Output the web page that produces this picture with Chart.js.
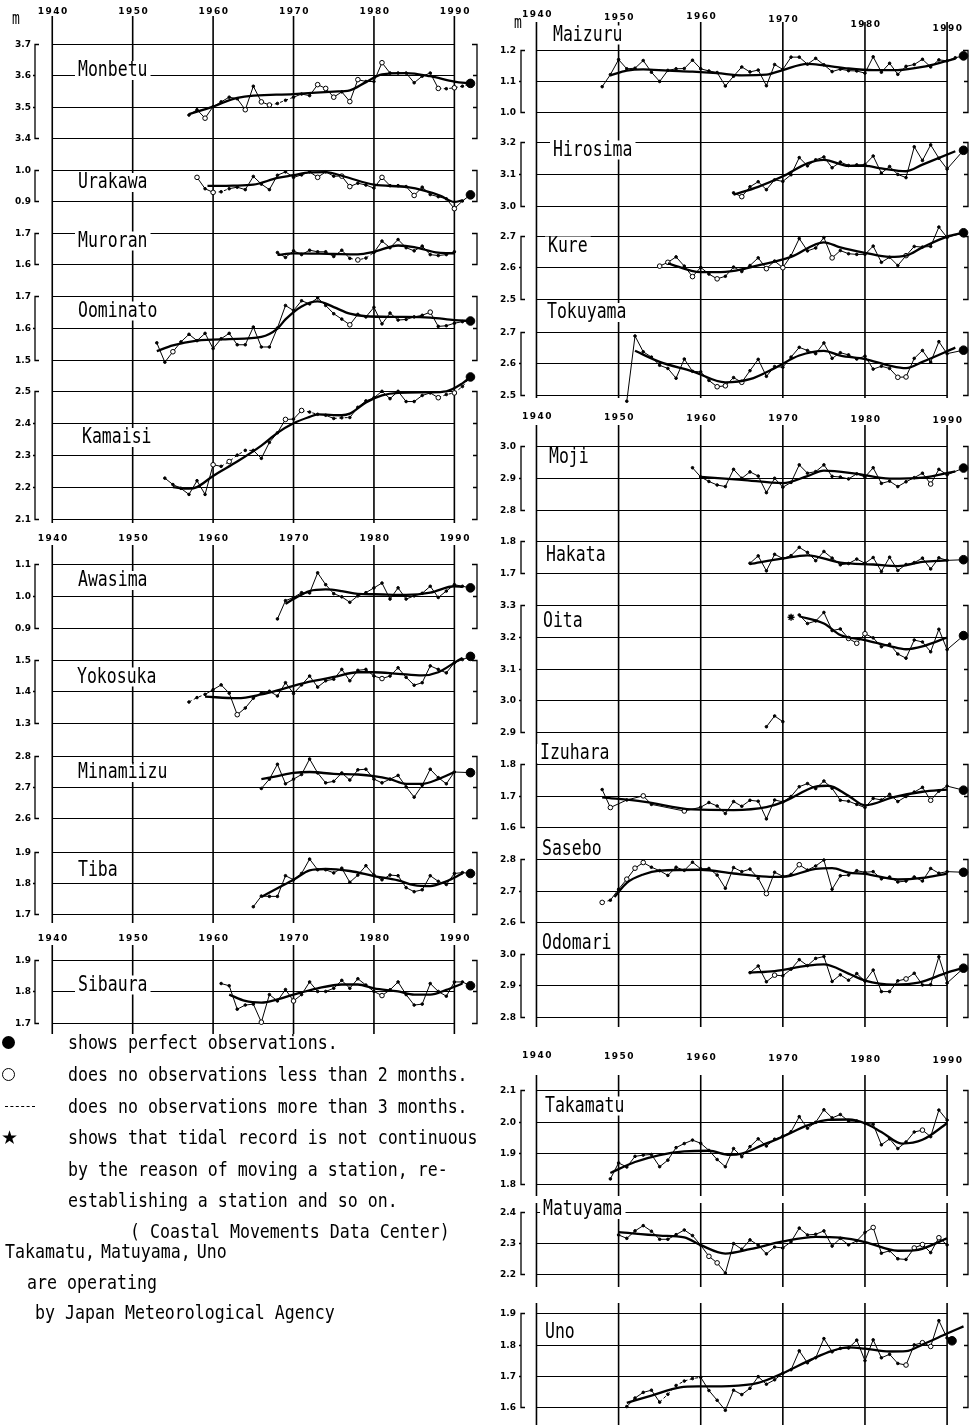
<!DOCTYPE html>
<html><head><meta charset="utf-8">
<script src="https://cdn.jsdelivr.net/npm/chart.js@4.4.1/dist/chart.umd.min.js"></script>
<style>
html,body{margin:0;padding:0;background:#fff}
body{width:974px;height:1425px;position:relative;overflow:hidden}
canvas{position:absolute;top:0}
.t{position:absolute;font-family:'DejaVu Sans Mono',monospace;font-size:16.6px;line-height:20px;height:20px;white-space:pre;color:#000;transform:scaleY(1.2);transform-origin:0 50%}
</style></head><body>
<canvas id="leftCol" width="490" height="1040" style="left:0"></canvas>
<canvas id="rightCol" width="484" height="1425" style="left:490px"></canvas>
<div style="position:absolute;left:2px;top:1036px;width:13px;height:13px;border-radius:50%;background:#000"></div>
<div style="position:absolute;left:2px;top:1068px;width:11px;height:11px;border-radius:50%;border:1.3px solid #000"></div>
<div style="position:absolute;left:5px;top:1106px;width:30px;border-top:1px dashed #000"></div>
<div class="t" style="left:1px;top:1127px;font-family:'DejaVu Sans';font-size:19px;transform:none">★</div>
<div class="t" style="left:68px;top:1033px">shows perfect observations.</div>
<div class="t" style="left:68px;top:1065px">does no observations less than 2 months.</div>
<div class="t" style="left:68px;top:1097px">does no observations more than 3 months.</div>
<div class="t" style="left:68px;top:1128px">shows that tidal record is not continuous</div>
<div class="t" style="left:68px;top:1160px">by the reason of moving a station, re-</div>
<div class="t" style="left:68px;top:1191px">establishing a station and so on.</div>
<div class="t" style="left:130px;top:1222px">( Coastal Movements Data Center)</div>
<div class="t" style="left:5px;top:1242px;word-spacing:-4px">Takamatu, Matuyama, Uno</div>
<div class="t" style="left:27px;top:1273px">are operating</div>
<div class="t" style="left:35px;top:1303px">by Japan Meteorological Agency</div>
<script>
// ---------------- DATA (annual mean sea level, m) ----------------
const yearTicks = [1940, 1950, 1960, 1970, 1980, 1990];

const monbetuFirstYear = 1957;
const monbetuLevels = [3.473,3.49,3.463,3.50,3.515,3.53,3.525,3.49,3.565,3.515,3.505,3.51,3.52,3.53,3.54,3.535,3.57,3.558,3.53,3.547,3.516,3.586,3.58,3.58,3.64,3.607,3.607,3.607,3.576,3.597,3.607,3.558,3.557,3.56,3.565];
const monbetuTrendYears = [1957,1960,1963,1970,1975,1977,1979,1981,1984,1987,1990,1992];
const monbetuTrendLevels = [3.476,3.50,3.528,3.54,3.548,3.552,3.578,3.603,3.607,3.597,3.58,3.574];
const monbetuTicks = [3.7,3.6,3.5,3.4];
const monbetuLatest = [1992,3.574];
const monbetuOpen = [1959,1964,1966,1967,1973,1974,1975,1977,1978,1981,1988,1990];
const monbetuDashed = [1967,1968,1969,1988,1989,1990,1991];

const urakawaFirstYear = 1958;
const urakawaLevels = [0.977,0.94,0.928,0.93,0.94,0.945,0.937,0.98,0.955,0.937,0.984,0.995,0.977,0.985,0.995,0.977,0.995,0.981,0.981,0.947,0.958,0.952,0.942,0.977,0.95,0.95,0.947,0.918,0.945,0.921,0.914,0.907,0.875,0.90];
const urakawaTrendYears = [1959.3,1962.5,1965,1968,1970,1972,1974,1976.4,1980,1984.2,1988.2,1990,1991];
const urakawaTrendLevels = [0.949,0.95,0.953,0.975,0.984,0.993,0.994,0.979,0.953,0.945,0.918,0.897,0.902];
const urakawaTicks = [1.0,0.9];
const urakawaLatest = [1992,0.92];
const urakawaOpen = [1958,1960,1973,1976,1977,1981,1985,1990];
const urakawaDashed = [1960,1961];

const muroranFirstYear = 1968;
const muroranLevels = [1.6375,1.622,1.643,1.631,1.645,1.64,1.64,1.625,1.645,1.619,1.614,1.62,1.638,1.674,1.653,1.679,1.653,1.643,1.658,1.631,1.628,1.631,1.64];
const muroranTrendYears = [1968,1970,1975,1978,1980,1983,1985,1988,1990];
const muroranTrendLevels = [1.63,1.635,1.633,1.632,1.64,1.66,1.655,1.637,1.635];
const muroranTicks = [1.7,1.6];
const muroranLatest = null;
const muroranOpen = [1978];
const muroranDashed = [1977,1978,1979];

const oominatoFirstYear = 1953;
const oominatoLevels = [1.553,1.492,1.525,1.556,1.58,1.56,1.583,1.535,1.566,1.583,1.547,1.547,1.603,1.54,1.54,1.6,1.671,1.655,1.686,1.676,1.695,1.671,1.645,1.628,1.61,1.643,1.635,1.665,1.613,1.647,1.625,1.627,1.635,1.64,1.65,1.605,1.607,1.615,1.62];
const oominatoTrendYears = [1953,1955,1958,1962,1966,1968,1969,1971,1973,1975,1977,1979,1983,1987,1990,1992];
const oominatoTrendLevels = [1.527,1.545,1.56,1.565,1.572,1.598,1.627,1.668,1.684,1.666,1.645,1.637,1.635,1.633,1.625,1.622];
const oominatoTicks = [1.7,1.6,1.5];
const oominatoLatest = [1992,1.622];
const oominatoOpen = [1955,1977,1987];
const oominatoDashed = [];

const kamaisiFirstYear = 1954;
const kamaisiLevels = [2.228,2.208,2.196,2.177,2.22,2.177,2.27,2.265,2.28,2.30,2.315,2.315,2.29,2.34,2.37,2.412,2.413,2.44,2.435,2.428,2.425,2.415,2.417,2.418,2.45,2.47,2.48,2.50,2.477,2.50,2.468,2.468,2.487,2.495,2.48,2.49,2.495,2.515];
const kamaisiTrendYears = [1955,1957,1958,1960,1963,1966,1968,1970,1972,1973,1976,1977,1979,1981,1983,1987,1989,1991,1992];
const kamaisiTrendLevels = [2.20,2.195,2.2,2.235,2.28,2.33,2.37,2.40,2.42,2.428,2.425,2.43,2.465,2.487,2.495,2.497,2.5,2.525,2.545];
const kamaisiTicks = [2.5,2.4,2.3,2.2,2.1];
const kamaisiLatest = [1992,2.545];
const kamaisiOpen = [1960,1962,1969,1971,1988,1990];
const kamaisiDashed = [1961,1962,1963,1964,1971,1972,1975,1976,1988,1989,1990,1991];

const awasimaFirstYear = 1968;
const awasimaLevels = [0.928,0.985,0.995,1.01,1.009,1.072,1.035,1.007,0.997,0.98,1.0,1.01,1.025,1.04,0.99,1.025,0.99,1.0,1.008,1.03,0.995,1.015,1.035,1.03];
const awasimaTrendYears = [1969,1970,1972,1974,1976,1978,1980,1984,1987,1990,1991];
const awasimaTrendLevels = [0.975,0.99,1.015,1.02,1.015,1.006,1.005,1.003,1.01,1.03,1.028];
const awasimaTicks = [1.1,1.0,0.9];
const awasimaLatest = [1992,1.025];
const awasimaOpen = [];
const awasimaDashed = [];

const yokosukaFirstYear = 1957;
const yokosukaLevels = [1.366,1.38,1.39,1.405,1.42,1.394,1.326,1.347,1.378,1.394,1.40,1.385,1.427,1.393,1.42,1.448,1.413,1.433,1.438,1.469,1.433,1.466,1.469,1.448,1.44,1.448,1.474,1.444,1.419,1.427,1.48,1.469,1.458,1.49,1.50];
const yokosukaTrendYears = [1959,1963,1966,1969,1972,1975,1978,1980,1983,1986,1988,1990,1991];
const yokosukaTrendLevels = [1.383,1.378,1.39,1.41,1.43,1.445,1.46,1.46,1.455,1.45,1.46,1.49,1.505];
const yokosukaTicks = [1.5,1.4,1.3];
const yokosukaLatest = [1992,1.51];
const yokosukaOpen = [1963,1981];
const yokosukaDashed = [1957,1958];

const minamiizuFirstYear = 1966;
const minamiizuLevels = [2.695,2.725,2.773,2.71,2.725,2.74,2.79,2.745,2.713,2.718,2.745,2.722,2.755,2.757,2.725,2.713,2.725,2.737,2.70,2.667,2.705,2.757,2.73,2.71,2.748];
const minamiizuTrendYears = [1966,1968,1970,1972,1975,1978,1980,1982,1984,1986,1988,1990];
const minamiizuTrendLevels = [2.725,2.735,2.745,2.748,2.742,2.74,2.735,2.725,2.71,2.71,2.725,2.748];
const minamiizuTicks = [2.8,2.7,2.6];
const minamiizuLatest = [1992,2.746];
const minamiizuOpen = [];
const minamiizuDashed = [];

const tibaFirstYear = 1965;
const tibaLevels = [1.724,1.758,1.757,1.757,1.823,1.81,1.83,1.876,1.842,1.842,1.832,1.847,1.802,1.825,1.855,1.825,1.81,1.825,1.823,1.785,1.772,1.778,1.823,1.805,1.795,1.83,1.833];
const tibaTrendYears = [1966,1968,1970,1972,1974,1977,1980,1983,1985,1987,1989,1991];
const tibaTrendLevels = [1.755,1.783,1.81,1.84,1.845,1.838,1.822,1.808,1.793,1.79,1.805,1.83];
const tibaTicks = [1.9,1.8,1.7];
const tibaLatest = [1992,1.83];
const tibaOpen = [];
const tibaDashed = [];

const sibauraFirstYear = 1961;
const sibauraLevels = [1.825,1.818,1.744,1.757,1.76,1.703,1.79,1.77,1.806,1.77,1.79,1.83,1.80,1.80,1.81,1.835,1.81,1.84,1.82,1.80,1.787,1.805,1.83,1.79,1.757,1.76,1.825,1.80,1.785,1.83,1.83];
const sibauraTrendYears = [1962,1964,1966,1968,1970,1973,1976,1978,1980,1983,1985,1987,1989,1991];
const sibauraTrendLevels = [1.79,1.77,1.765,1.775,1.79,1.81,1.822,1.822,1.81,1.8,1.79,1.79,1.805,1.825];
const sibauraTicks = [1.9,1.8,1.7];
const sibauraLatest = [1992,1.818];
const sibauraOpen = [1966,1970,1981];
const sibauraDashed = [];

const maizuruFirstYear = 1948;
const maizuruLevels = [1.081,1.12,1.169,1.139,1.141,1.166,1.128,1.098,1.134,1.139,1.14,1.167,1.139,1.132,1.127,1.083,1.115,1.145,1.129,1.135,1.084,1.153,1.137,1.177,1.177,1.154,1.173,1.152,1.13,1.138,1.133,1.132,1.125,1.178,1.128,1.157,1.121,1.147,1.153,1.17,1.145,1.168,1.165,1.175];
const maizuruTrendYears = [1949,1951,1953,1956,1959,1962,1965,1968,1970,1973,1975,1978,1981,1984,1987,1990,1991];
const maizuruTrendLevels = [1.118,1.133,1.137,1.133,1.13,1.125,1.118,1.12,1.135,1.155,1.15,1.14,1.135,1.135,1.145,1.165,1.172];
const maizuruTicks = [1.2,1.1,1.0];
const maizuruLatest = [1992,1.181];
const maizuruOpen = [];
const maizuruDashed = [];

const hirosimaFirstYear = 1964;
const hirosimaLevels = [3.041,3.029,3.06,3.076,3.051,3.082,3.077,3.098,3.152,3.126,3.145,3.154,3.12,3.138,3.127,3.129,3.13,3.157,3.103,3.124,3.099,3.089,3.186,3.143,3.192,3.15,3.116];
const hirosimaTrendYears = [1964,1967,1970,1973,1975,1978,1980,1982,1985,1987,1991];
const hirosimaTrendLevels = [3.035,3.06,3.093,3.134,3.145,3.126,3.126,3.118,3.109,3.13,3.172];
const hirosimaTicks = [3.2,3.1,3.0];
const hirosimaLatest = [1992,3.175];
const hirosimaOpen = [1965];
const hirosimaDashed = [];

const kureFirstYear = 1955;
const kureLevels = [2.604,2.616,2.633,2.604,2.571,2.60,2.579,2.564,2.572,2.601,2.587,2.606,2.63,2.596,2.62,2.599,2.637,2.691,2.652,2.661,2.694,2.63,2.653,2.643,2.641,2.641,2.667,2.616,2.632,2.606,2.637,2.666,2.664,2.666,2.727,2.694];
const kureTrendYears = [1956,1960,1963,1967,1971,1975,1977,1980,1983,1985,1987,1990,1992];
const kureTrendLevels = [2.613,2.585,2.586,2.606,2.633,2.679,2.663,2.646,2.633,2.637,2.663,2.697,2.709];
const kureTicks = [2.7,2.6,2.5];
const kureLatest = [1992,2.709];
const kureOpen = [1955,1956,1959,1962,1968,1970,1976,1985];
const kureDashed = [];

const tokuyamaFirstYear = 1951;
const tokuyamaLevels = [2.48,2.687,2.637,2.62,2.594,2.584,2.553,2.614,2.575,2.573,2.546,2.526,2.529,2.555,2.54,2.577,2.613,2.559,2.59,2.588,2.62,2.651,2.641,2.631,2.665,2.616,2.634,2.627,2.614,2.623,2.582,2.591,2.584,2.556,2.557,2.616,2.641,2.604,2.669,2.631];
const tokuyamaTrendYears = [1952,1955,1959,1963,1966,1969,1972,1975,1977,1980,1983,1985,1987,1991];
const tokuyamaTrendLevels = [2.64,2.605,2.575,2.54,2.55,2.585,2.625,2.64,2.625,2.614,2.593,2.585,2.605,2.65];
const tokuyamaTicks = [2.7,2.6,2.5];
const tokuyamaLatest = [1992,2.642];
const tokuyamaOpen = [1962,1963,1965,1984,1985];
const tokuyamaDashed = [];

const mojiFirstYear = 1959;
const mojiLevels = [2.931,2.902,2.888,2.877,2.872,2.926,2.898,2.918,2.905,2.853,2.898,2.87,2.885,2.94,2.914,2.919,2.94,2.904,2.902,2.896,2.912,2.902,2.931,2.882,2.889,2.872,2.887,2.9,2.914,2.88,2.926,2.909];
const mojiTrendYears = [1960,1965,1970,1973,1975,1979,1983,1987,1991];
const mojiTrendLevels = [2.902,2.893,2.883,2.905,2.922,2.912,2.897,2.9,2.92];
const mojiTicks = [3.0,2.9,2.8];
const mojiLatest = [1992,2.93];
const mojiOpen = [1988];
const mojiDashed = [];

const hakataFirstYear = 1966;
const hakataLevels = [1.731,1.754,1.707,1.759,1.746,1.755,1.781,1.765,1.739,1.768,1.747,1.726,1.73,1.744,1.731,1.749,1.705,1.75,1.708,1.727,1.733,1.747,1.713,1.748,1.74];
const hakataTrendYears = [1966,1970,1973,1977,1981,1984,1987,1990];
const hakataTrendLevels = [1.728,1.746,1.756,1.733,1.727,1.722,1.735,1.74];
const hakataTicks = [1.8,1.7];
const hakataLatest = [1992,1.742];
const hakataOpen = [];
const hakataDashed = [];

const oitaFirstYear = 1968;
const oitaLevels = [2.917,2.951,2.933,null,3.269,3.242,3.25,3.277,3.22,3.225,3.195,3.18,3.21,3.197,3.169,3.177,3.146,3.133,3.19,3.184,3.153,3.224,3.16];
const oitaTrendYears = [1972,1975,1977,1980,1983,1985,1987,1990];
const oitaTrendLevels = [3.265,3.242,3.206,3.19,3.171,3.161,3.17,3.198];
const oitaTicks = [3.3,3.2,3.1,3.0,2.9];
const oitaLatest = [1992,3.204];
const oitaOpen = [1978,1979,1980];
const oitaDashed = [];
const oitaRelocation = [1971,3.262];

const izuharaFirstYear = 1948;
const izuharaLevels = [1.72,1.663,null,1.687,null,1.70,1.673,null,null,null,1.652,null,1.664,1.679,1.668,1.644,1.682,1.667,1.686,1.683,1.627,1.687,1.681,1.698,1.729,1.739,1.723,1.747,1.724,1.686,1.683,1.673,1.663,1.692,1.687,1.705,1.682,1.698,1.712,1.727,1.686,1.715,1.731];
const izuharaTrendYears = [1948,1953,1959,1964,1968,1970,1974,1975.5,1978,1980,1983.5,1987,1990];
const izuharaTrendLevels = [1.695,1.682,1.657,1.655,1.664,1.68,1.729,1.732,1.70,1.67,1.696,1.713,1.72];
const izuharaTicks = [1.8,1.7,1.6];
const izuharaLatest = [1992,1.718];
const izuharaOpen = [1949,1953,1958,1988];
const izuharaDashed = [];

const saseboFirstYear = 1948;
const saseboLevels = [2.663,2.67,2.705,2.737,2.772,2.79,2.775,2.764,2.749,2.775,2.765,2.791,2.77,2.771,2.75,2.708,2.774,2.761,2.769,2.74,2.691,2.759,2.746,2.752,2.783,2.766,2.779,2.798,2.705,2.748,2.75,2.764,2.759,2.761,2.738,2.744,2.728,2.731,2.744,2.731,2.771,2.756,2.761];
const saseboTrendYears = [1949.5,1951,1953,1955,1960,1964,1968,1970,1974,1976,1978,1980,1984,1987,1990];
const saseboTrendLevels = [2.68,2.725,2.752,2.764,2.767,2.755,2.745,2.744,2.77,2.772,2.758,2.754,2.736,2.741,2.755];
const saseboTicks = [2.8,2.7,2.6];
const saseboLatest = [1992,2.759];
const saseboOpen = [1948,1951,1952,1953,1968,1972];
const saseboDashed = [1948];

const odomariFirstYear = 1966;
const odomariLevels = [2.94,2.961,2.911,2.932,2.93,2.951,2.981,2.962,2.985,2.991,2.912,2.933,2.916,2.937,2.913,2.948,2.88,2.88,2.914,2.92,2.938,2.901,2.902,2.99,2.907];
const odomariTrendYears = [1966,1969,1973,1975,1978,1980,1983.5,1986.5,1990,1992];
const odomariTrendLevels = [2.94,2.945,2.962,2.966,2.937,2.915,2.902,2.908,2.94,2.955];
const odomariTicks = [3.0,2.9,2.8];
const odomariLatest = [1992,2.954];
const odomariOpen = [1969,1985];
const odomariDashed = [];

const takamatuFirstYear = 1949;
const takamatuLevels = [1.817,1.868,1.855,1.889,1.893,1.895,1.856,1.877,1.917,1.93,1.941,1.931,1.908,1.879,1.856,1.914,1.888,1.92,1.945,1.922,1.944,1.954,1.968,2.016,1.979,1.998,2.038,2.012,2.023,2.002,2.002,1.995,1.992,1.926,1.945,1.914,1.935,1.967,1.973,1.952,2.037,2.005];
const takamatuTrendYears = [1949,1952,1955,1958,1961,1963.5,1965,1967.5,1970,1973,1975.5,1978,1980,1982,1984.5,1987,1990];
const takamatuTrendLevels = [1.836,1.871,1.893,1.905,1.907,1.894,1.898,1.925,1.952,1.988,2.006,2.007,1.995,1.967,1.93,1.942,1.995];
const takamatuTicks = [2.1,2.0,1.9,1.8];
const takamatuLatest = null;
const takamatuOpen = [1987];
const takamatuDashed = [];

const matuyamaFirstYear = 1950;
const matuyamaLevels = [2.326,2.315,2.339,2.356,2.338,2.312,2.312,2.327,2.342,2.324,2.293,2.257,2.236,2.203,2.298,2.28,2.31,2.293,2.265,2.287,2.284,2.304,2.348,2.326,2.328,2.339,2.29,2.315,2.294,2.307,2.334,2.35,2.267,2.275,2.249,2.247,2.284,2.295,2.269,2.317,2.294];
const matuyamaTrendYears = [1950,1955,1958,1960,1963,1966,1970,1974,1977,1980,1984,1986,1990];
const matuyamaTrendLevels = [2.335,2.324,2.318,2.293,2.266,2.28,2.305,2.32,2.317,2.303,2.275,2.276,2.315];
const matuyamaTicks = [2.4,2.3,2.2];
const matuyamaLatest = null;
const matuyamaOpen = [1961,1962,1981,1986,1987,1989];
const matuyamaDashed = [];

const unoFirstYear = 1951;
const unoLevels = [1.603,1.63,1.648,1.655,1.617,1.642,1.67,1.684,1.692,1.696,1.654,1.623,1.591,1.655,1.641,1.661,1.698,1.674,1.688,1.709,1.72,1.78,1.742,1.758,1.819,1.777,1.788,1.789,1.814,1.749,1.815,1.758,1.769,1.74,1.735,1.799,1.806,1.794,1.876,1.821];
const unoTrendYears = [1951,1954,1957.5,1960,1963.5,1967,1970,1973.5,1976,1978,1980,1983,1985,1987,1990,1992];
const unoTrendLevels = [1.615,1.638,1.664,1.667,1.668,1.678,1.709,1.753,1.78,1.791,1.787,1.778,1.779,1.8,1.835,1.858];
const unoTicks = [1.9,1.8,1.7,1.6];
const unoLatest = [1990.6,1.812];
const unoOpen = [1985,1987,1988];
const unoDashed = [1955,1956,1957,1958,1959];

// --------------- table built from the arrays ---------------
function station(first, levels, trendYears, trendLevels, ticks, latest, open, dashed) {
  return {first, levels, trendYears, trendLevels, ticks, latest, open, dashed};
}
const STATIONS = {
  Monbetu: station(monbetuFirstYear, monbetuLevels, monbetuTrendYears, monbetuTrendLevels, monbetuTicks, monbetuLatest, monbetuOpen, monbetuDashed),
  Urakawa: station(urakawaFirstYear, urakawaLevels, urakawaTrendYears, urakawaTrendLevels, urakawaTicks, urakawaLatest, urakawaOpen, urakawaDashed),
  Muroran: station(muroranFirstYear, muroranLevels, muroranTrendYears, muroranTrendLevels, muroranTicks, muroranLatest, muroranOpen, muroranDashed),
  Oominato: station(oominatoFirstYear, oominatoLevels, oominatoTrendYears, oominatoTrendLevels, oominatoTicks, oominatoLatest, oominatoOpen, oominatoDashed),
  Kamaisi: station(kamaisiFirstYear, kamaisiLevels, kamaisiTrendYears, kamaisiTrendLevels, kamaisiTicks, kamaisiLatest, kamaisiOpen, kamaisiDashed),
  Awasima: station(awasimaFirstYear, awasimaLevels, awasimaTrendYears, awasimaTrendLevels, awasimaTicks, awasimaLatest, awasimaOpen, awasimaDashed),
  Yokosuka: station(yokosukaFirstYear, yokosukaLevels, yokosukaTrendYears, yokosukaTrendLevels, yokosukaTicks, yokosukaLatest, yokosukaOpen, yokosukaDashed),
  Minamiizu: station(minamiizuFirstYear, minamiizuLevels, minamiizuTrendYears, minamiizuTrendLevels, minamiizuTicks, minamiizuLatest, minamiizuOpen, minamiizuDashed),
  Tiba: station(tibaFirstYear, tibaLevels, tibaTrendYears, tibaTrendLevels, tibaTicks, tibaLatest, tibaOpen, tibaDashed),
  Sibaura: station(sibauraFirstYear, sibauraLevels, sibauraTrendYears, sibauraTrendLevels, sibauraTicks, sibauraLatest, sibauraOpen, sibauraDashed),
  Maizuru: station(maizuruFirstYear, maizuruLevels, maizuruTrendYears, maizuruTrendLevels, maizuruTicks, maizuruLatest, maizuruOpen, maizuruDashed),
  Hirosima: station(hirosimaFirstYear, hirosimaLevels, hirosimaTrendYears, hirosimaTrendLevels, hirosimaTicks, hirosimaLatest, hirosimaOpen, hirosimaDashed),
  Kure: station(kureFirstYear, kureLevels, kureTrendYears, kureTrendLevels, kureTicks, kureLatest, kureOpen, kureDashed),
  Tokuyama: station(tokuyamaFirstYear, tokuyamaLevels, tokuyamaTrendYears, tokuyamaTrendLevels, tokuyamaTicks, tokuyamaLatest, tokuyamaOpen, tokuyamaDashed),
  Moji: station(mojiFirstYear, mojiLevels, mojiTrendYears, mojiTrendLevels, mojiTicks, mojiLatest, mojiOpen, mojiDashed),
  Hakata: station(hakataFirstYear, hakataLevels, hakataTrendYears, hakataTrendLevels, hakataTicks, hakataLatest, hakataOpen, hakataDashed),
  Oita: station(oitaFirstYear, oitaLevels, oitaTrendYears, oitaTrendLevels, oitaTicks, oitaLatest, oitaOpen, oitaDashed),
  Izuhara: station(izuharaFirstYear, izuharaLevels, izuharaTrendYears, izuharaTrendLevels, izuharaTicks, izuharaLatest, izuharaOpen, izuharaDashed),
  Sasebo: station(saseboFirstYear, saseboLevels, saseboTrendYears, saseboTrendLevels, saseboTicks, saseboLatest, saseboOpen, saseboDashed),
  Odomari: station(odomariFirstYear, odomariLevels, odomariTrendYears, odomariTrendLevels, odomariTicks, odomariLatest, odomariOpen, odomariDashed),
  Takamatu: station(takamatuFirstYear, takamatuLevels, takamatuTrendYears, takamatuTrendLevels, takamatuTicks, takamatuLatest, takamatuOpen, takamatuDashed),
  Matuyama: station(matuyamaFirstYear, matuyamaLevels, matuyamaTrendYears, matuyamaTrendLevels, matuyamaTicks, matuyamaLatest, matuyamaOpen, matuyamaDashed),
  Uno: station(unoFirstYear, unoLevels, unoTrendYears, unoTrendLevels, unoTicks, unoLatest, unoOpen, unoDashed)
};
const RELOCATIONS = { Oita: oitaRelocation };

// --------------- layout (pixel positions, separate from data) ---------------
const LEFT_COLUMN = {
  canvas: 'leftCol', W: 490, H: 1040, x1940: 48, x1990: 459,
  labelRight: 31, bracketL: 35, bracketR: 477, unit: [16, 20],
  groups: [
    {labelY: [11.5,11.5,11.5,11.5,11.5,11.5], spans: [[16, 523]]},
    {labelY: [538.5,538.5,538.5,538.5,538.5,538.5], spans: [[545, 923]]},
    {labelY: [938.5,938.5,938.5,938.5,938.5,938.5], spans: [[945, 1034]]}
  ],
  panels: [
    {key:'Monbetu',  top: 39,    bot: 134,   nx: 78, ny: 70.5},
    {key:'Urakawa',  top: 166.7, bot: 197.7, nx: 78, ny: 182.5},
    {key:'Muroran',  top: 230,   bot: 261.7, nx: 78, ny: 241},
    {key:'Oominato', top: 294,   bot: 358,   nx: 78, ny: 311},
    {key:'Kamaisi',  top: 390,   bot: 519,   nx: 82, ny: 437.5},
    {key:'Awasima',  top: 564.3, bot: 629,   nx: 78, ny: 580.5},
    {key:'Yokosuka', top: 661,   bot: 725,   nx: 77, ny: 677},
    {key:'Minamiizu',top: 758.3, bot: 821,   nx: 78, ny: 772.5},
    {key:'Tiba',     top: 855,   bot: 918.3, nx: 78, ny: 870.5},
    {key:'Sibaura',  top: 964.3, bot: 1028.3,nx: 78, ny: 985}
  ]
};
const RIGHT_COLUMN = {
  canvas: 'rightCol', W: 484, H: 1425, x1940: 42, x1990: 462,
  labelRight: 26, bracketL: 31, bracketR: 478, unit: [28, 24],
  groups: [
    {labelY: [15,18,17,20,25,29], spans: [[22, 398]]},
    {labelY: [417,418,419,419,420,421], spans: [[425, 1027]]},
    {labelY: [1056,1057,1058,1059,1060,1061], spans: [[1075, 1196], [1203, 1287], [1303, 1425]]}
  ],
  panels: [
    {key:'Maizuru',  top: 45,     bot: 107,    nx: 63, ny: 35},
    {key:'Hirosima', top: 138,    bot: 202,    nx: 63, ny: 150},
    {key:'Kure',     top: 232,    bot: 296,    nx: 58, ny: 246},
    {key:'Tokuyama', top: 329,    bot: 392.5,  nx: 57, ny: 312.5},
    {key:'Moji',     top: 443.7,  bot: 508,    nx: 59, ny: 457},
    {key:'Hakata',   top: 540,    bot: 572,    nx: 56, ny: 555},
    {key:'Oita',     top: 604.3,  bot: 732.3,  nx: 53, ny: 621},
    {key:'Izuhara',  top: 764.7,  bot: 828.3,  nx: 50, ny: 753.5},
    {key:'Sasebo',   top: 860.5,  bot: 923.8,  nx: 52, ny: 849.5},
    {key:'Odomari',  top: 955.5,  bot: 1019.2, nx: 52, ny: 943.5},
    {key:'Takamatu', top: 1093.3, bot: 1187.8, nx: 55, ny: 1106},
    {key:'Matuyama', top: 1215.8, bot: 1278.3, nx: 53, ny: 1209.5},
    {key:'Uno',      top: 1317.7, bot: 1412.8, nx: 55, ny: 1332}
  ]
};

// --------------- drawing helpers ---------------
function makeFramePlugin(col) {
  return {
    id: 'frame_' + col.canvas,
    beforeDatasetsDraw(chart) {
      const ctx = chart.ctx, xs = chart.scales.x;
      ctx.save();
      ctx.strokeStyle = '#000';
      ctx.fillStyle = '#000';
      const xa = xs.getPixelForValue(1940), xb = xs.getPixelForValue(1990);
      col.groups.forEach(g => {
        yearTicks.forEach((yr, i) => {
          const x = xs.getPixelForValue(yr);
          ctx.lineWidth = 1.6;
          g.spans.forEach(([a, b]) => {
            ctx.beginPath(); ctx.moveTo(x, a); ctx.lineTo(x, b); ctx.stroke();
          });
          ctx.font = "bold 9px 'DejaVu Sans'";
          ctx.letterSpacing = '1.5px';
          ctx.textAlign = 'center'; ctx.textBaseline = 'middle';
          ctx.fillText(String(yr), x + 1, g.labelY[i]);
        });
      });
      ctx.letterSpacing = '0px';
      ctx.save();
      ctx.font = "13px 'DejaVu Sans Mono'";
      ctx.textAlign = 'center'; ctx.textBaseline = 'middle';
      ctx.translate(col.unit[0], col.unit[1]); ctx.scale(1, 1.3);
      ctx.fillText('m', 0, 0);
      ctx.restore();
      col.panels.forEach(p => {
        const st = STATIONS[p.key], ys = chart.scales['y' + p.key];
        const tks = st.ticks;
        ctx.lineWidth = 1;
        ctx.font = "bold 9px 'DejaVu Sans'";
        ctx.textAlign = 'right'; ctx.textBaseline = 'middle';
        tks.forEach(t => {
          const y = Math.round(ys.getPixelForValue(t)) + 0.5;
          ctx.beginPath(); ctx.moveTo(xa, y); ctx.lineTo(xb, y); ctx.stroke();
          ctx.fillText(t.toFixed(1), col.labelRight, y);
        });
        const yt = Math.round(ys.getPixelForValue(tks[0])) + 0.5;
        const yb = Math.round(ys.getPixelForValue(tks[tks.length - 1])) + 0.5;
        ctx.lineWidth = 1.3;
        const bl = col.bracketL, br = col.bracketR;
        ctx.beginPath();
        ctx.moveTo(bl + 4, yt); ctx.lineTo(bl, yt); ctx.lineTo(bl, yb); ctx.lineTo(bl + 4, yb);
        ctx.moveTo(br - 5, yt); ctx.lineTo(br, yt); ctx.lineTo(br, yb); ctx.lineTo(br - 5, yb);
        tks.slice(1, -1).forEach(t => {
          const y = Math.round(ys.getPixelForValue(t)) + 0.5;
          ctx.moveTo(bl - 2, y); ctx.lineTo(bl, y);
          ctx.moveTo(br - 4, y); ctx.lineTo(br, y);
        });
        ctx.stroke();
        ctx.font = "16.5px 'DejaVu Sans Mono'";
        ctx.textAlign = 'left'; ctx.textBaseline = 'middle';
        const w = ctx.measureText(p.key).width;
        ctx.fillStyle = '#fff';
        ctx.fillRect(p.nx - 3, p.ny - 9.5, w + 6, 19);
        ctx.fillStyle = '#000';
        ctx.save();
        ctx.translate(p.nx, p.ny); ctx.scale(1, 1.25);
        ctx.fillText(p.key, 0, 0.5);
        ctx.restore();
      });
      ctx.restore();
    }
  };
}

function buildColumn(col) {
  const ppy = (col.x1990 - col.x1940) / 50;
  const xmin = 1940 - col.x1940 / ppy;
  const xmax = xmin + col.W / ppy;
  const scales = {
    x: {type: 'linear', display: false, min: xmin, max: xmax, bounds: 'data'},
    y: {type: 'linear', display: false}
  };
  const datasets = [];
  col.panels.forEach(p => {
    const st = STATIONS[p.key];
    const t0 = st.ticks[0], t1 = st.ticks[st.ticks.length - 1];
    const ppu = (p.bot - p.top) / (t0 - t1);
    const yid = 'y' + p.key;
    scales[yid] = {type: 'linear', display: false, bounds: 'data',
                   max: t0 + p.top / ppu, min: t1 - (col.H - p.bot) / ppu};
    datasets.push({
      data: st.trendYears.map((x, i) => ({x, y: st.trendLevels[i]})),
      yAxisID: yid, showLine: true, borderColor: '#000', borderWidth: 2.3,
      pointRadius: 0, tension: 0.4, cubicInterpolationMode: 'monotone', clip: false
    });
    const pts = st.levels.map((v, i) => ({x: st.first + i, y: v}));
    const hasEnd = !!st.latest;
    if (hasEnd) pts.push({x: st.latest[0], y: st.latest[1]});
    const last = pts.length - 1;
    const isEnd = i => hasEnd && i === last;
    const isOpen = i => !isEnd(i) && pts[i] && st.open.includes(pts[i].x);
    datasets.push({
      data: pts, yAxisID: yid, showLine: true, borderColor: '#000', borderWidth: 1,
      tension: 0, spanGaps: p.key !== 'Oita', clip: false,
      pointRadius: c => isEnd(c.dataIndex) ? 4.3 : (isOpen(c.dataIndex) ? 2.3 : 1.3),
      pointBackgroundColor: c => isOpen(c.dataIndex) ? '#fff' : '#000',
      pointBorderColor: '#000', pointBorderWidth: 1, pointHoverRadius: 0,
      segment: {
        borderDash: c => (st.dashed.includes(c.p0.parsed.x) || c.p1DataIndex - c.p0DataIndex > 1) ? [3, 2.5] : undefined
      }
    });
    if (RELOCATIONS[p.key]) {
      const r = RELOCATIONS[p.key];
      datasets.push({
        data: [{x: r[0], y: r[1]}], yAxisID: yid, showLine: false,
        pointStyle: 'star', pointRadius: 3.5, borderColor: '#000', borderWidth: 1.4,
        backgroundColor: '#000', clip: false
      });
    }
  });
  new Chart(document.getElementById(col.canvas), {
    type: 'scatter',
    data: {datasets},
    options: {
      responsive: false, animation: false, events: [],
      layout: {padding: 0},
      scales,
      plugins: {legend: {display: false}, tooltip: {enabled: false}, title: {display: false}}
    },
    plugins: [makeFramePlugin(col)]
  });
}

buildColumn(LEFT_COLUMN);
buildColumn(RIGHT_COLUMN);
</script>
</body></html>
